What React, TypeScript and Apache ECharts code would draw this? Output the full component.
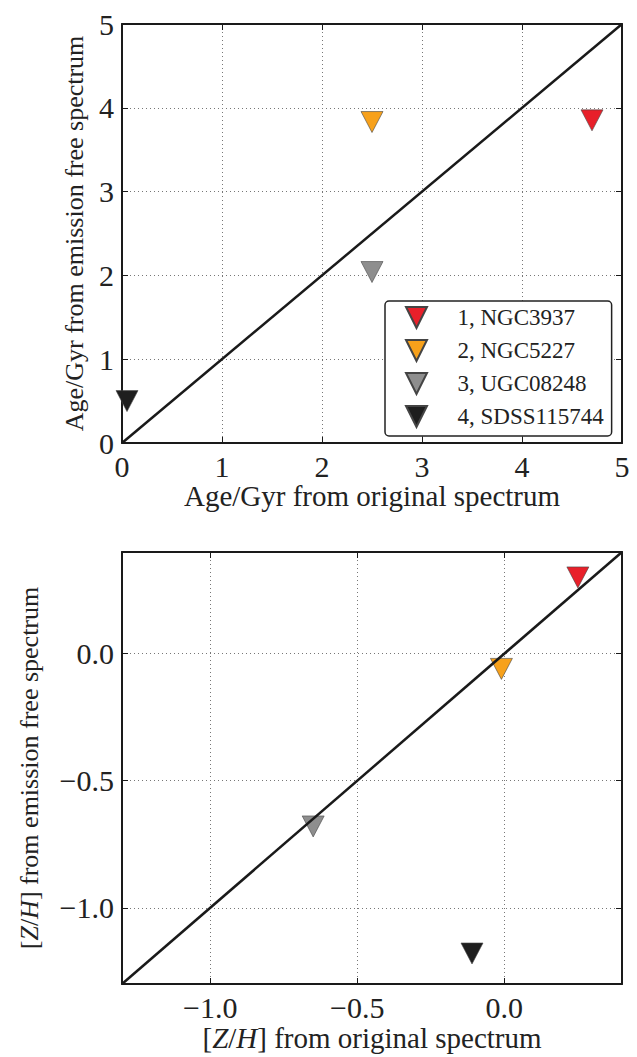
import React, { useEffect, useRef } from "react";
import * as echarts from "echarts";

const galaxyNames = ["1, NGC3937", "2, NGC5227", "3, UGC08248", "4, SDSS115744"];
const galaxyColors = ["#e8202a", "#f7a11b", "#8e8e8e", "#1e1e1e"];

// Age (Gyr): original vs emission-free
const ageOriginal = [4.7, 2.5, 2.5, 0.05];
const ageEmissionFree = [3.85, 3.83, 2.04, 0.5];

// [Z/H]: original vs emission-free
const zhOriginal = [0.25, -0.01, -0.65, -0.11];
const zhEmissionFree = [0.3, -0.06, -0.68, -1.18];

const ageTicks = [0, 1, 2, 3, 4, 5];
const zhTicks = [-1.0, -0.5, 0.0];
const ageRange = [0, 5];
const zhRange = [-1.3, 0.4];

const FONT = "'Liberation Serif', 'DejaVu Serif', 'Times New Roman', serif";
const TRI = "path://M0,0L10,0L5,10Z";

const fmtZ = (v: number) => (v < 0 ? "\u2212" : "") + Math.abs(v).toFixed(1);

function nameStyle(size: number) {
  return {
    color: "#222",
    fontFamily: FONT,
    fontSize: size,
    rich: {
      i: { fontFamily: FONT, fontSize: size, fontStyle: "italic", color: "#222" },
    },
  };
}

export default function App() {
  const ref = useRef<HTMLDivElement>(null);
  useEffect(() => {
    if (!ref.current) return;
    const chart = echarts.init(ref.current, null, { renderer: "svg" });

    const tickLabel = { color: "#222", fontFamily: FONT, fontSize: 30 };
    const split = { show: true, lineStyle: { color: "#777", type: [1, 3] as any, width: 1 } };
    const frameLine = { show: true, onZero: false, lineStyle: { color: "#1a1a1a", width: 2 } };
    const tick = { show: true, inside: true, length: 6, lineStyle: { color: "#1a1a1a", width: 1 } };

    const xAxes: any[] = [
      {
        gridIndex: 0, type: "value", min: ageRange[0], max: ageRange[1], interval: 1,
        axisLine: frameLine, axisTick: { ...tick, customValues: ageTicks }, splitLine: split,
        axisLabel: { ...tickLabel, margin: 8, customValues: ageTicks },
        name: "Age/Gyr from original spectrum", nameLocation: "middle", nameGap: 34, nameTextStyle: nameStyle(29),
      },
      {
        gridIndex: 0, type: "value", position: "top", min: ageRange[0], max: ageRange[1], interval: 1,
        axisLine: frameLine, axisTick: tick, splitLine: { show: false }, axisLabel: { show: false },
      },
      {
        gridIndex: 1, type: "value", min: zhRange[0], max: zhRange[1],
        axisLine: frameLine,
        axisTick: { ...tick, customValues: zhTicks },
        splitLine: split,
        axisLabel: { ...tickLabel, margin: 8, customValues: zhTicks, formatter: fmtZ },
        name: "[{i|Z}/{i|H}] from original spectrum", nameLocation: "middle", nameGap: 39, nameTextStyle: nameStyle(29),
      },
      {
        gridIndex: 1, type: "value", position: "top", min: zhRange[0], max: zhRange[1],
        axisLine: frameLine, axisTick: { ...tick, customValues: zhTicks }, splitLine: { show: false }, axisLabel: { show: false },
      },
    ];
    const yAxes: any[] = [
      {
        gridIndex: 0, type: "value", min: ageRange[0], max: ageRange[1], interval: 1,
        axisLine: frameLine, axisTick: tick, splitLine: split,
        axisLabel: { ...tickLabel, margin: 8 },
        name: "Age/Gyr from emission free spectrum", nameLocation: "middle", nameGap: 35, nameTextStyle: nameStyle(26),
      },
      {
        gridIndex: 0, type: "value", position: "right", min: ageRange[0], max: ageRange[1], interval: 1,
        axisLine: frameLine, axisTick: tick, splitLine: { show: false }, axisLabel: { show: false },
      },
      {
        gridIndex: 1, type: "value", min: zhRange[0], max: zhRange[1],
        axisLine: frameLine,
        axisTick: { ...tick, customValues: zhTicks },
        splitLine: split,
        axisLabel: { ...tickLabel, margin: 8, customValues: zhTicks, formatter: fmtZ },
        name: "[{i|Z}/{i|H}] from emission free spectrum", nameLocation: "middle", nameGap: 80, nameTextStyle: nameStyle(26),
      },
      {
        gridIndex: 1, type: "value", position: "right", min: zhRange[0], max: zhRange[1],
        axisLine: frameLine, axisTick: { ...tick, customValues: zhTicks }, splitLine: { show: false }, axisLabel: { show: false },
      },
    ];

    const series: any[] = [];
    galaxyNames.forEach((name, i) => {
      series.push({
        name, type: "scatter", xAxisIndex: 0, yAxisIndex: 0, z: 2,
        symbol: TRI, symbolSize: [22, 21],
        itemStyle: { color: galaxyColors[i], borderColor: "#444", borderWidth: 0.6, opacity: 1 },
        data: [[ageOriginal[i], ageEmissionFree[i]]],
      });
      series.push({
        name, type: "scatter", xAxisIndex: 2, yAxisIndex: 2, z: 2,
        symbol: TRI, symbolSize: [22, 21],
        itemStyle: { color: galaxyColors[i], borderColor: "#444", borderWidth: 0.6, opacity: 1 },
        data: [[zhOriginal[i], zhEmissionFree[i]]],
      });
    });
    series.push({
      type: "line", xAxisIndex: 0, yAxisIndex: 0, z: 3, symbol: "none", silent: true,
      lineStyle: { color: "#1a1a1a", width: 2.5 },
      data: [[ageRange[0], ageRange[0]], [ageRange[1], ageRange[1]]],
    });
    series.push({
      type: "line", xAxisIndex: 2, yAxisIndex: 2, z: 3, symbol: "none", silent: true,
      lineStyle: { color: "#1a1a1a", width: 2.5 },
      data: [[zhRange[0], zhRange[0]], [zhRange[1], zhRange[1]]],
    });

    chart.setOption({
      animation: false,
      backgroundColor: "#fff",
      textStyle: { fontFamily: FONT },
      grid: [
        { left: 122, top: 24, width: 500, height: 419 },
        { left: 122, top: 552, width: 500, height: 432 },
      ],
      xAxis: xAxes,
      yAxis: yAxes,
      legend: {
        data: galaxyNames,
        orient: "vertical",
        left: 385,
        top: 301,
        padding: [5, 8, 8, 20],
        itemGap: 10,
        itemWidth: 22,
        itemHeight: 21,
        backgroundColor: "#fff",
        borderColor: "#222",
        borderWidth: 1.5,
        borderRadius: 4,
        selectedMode: false,
        textStyle: { fontFamily: FONT, fontSize: 23, color: "#222", lineHeight: 22, padding: [0, 0, 0, 25] },
      },
      series,
    });
    return () => chart.dispose();
  }, []);
  return <div ref={ref} style={{ position: "absolute", left: 0, top: 0, width: 637, height: 1057 }} />;
}
